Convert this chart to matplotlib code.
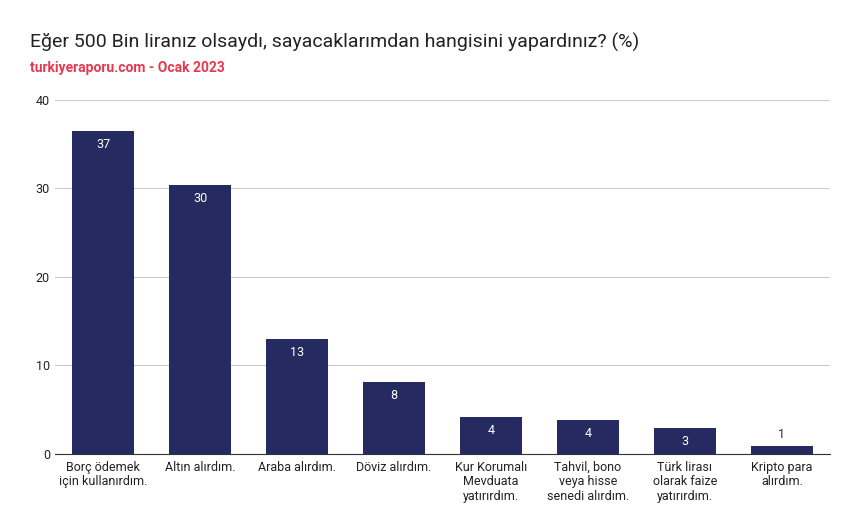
import matplotlib.pyplot as plt

categories = ["Borç ödemek\niçin kullanırdım.", "Altın alırdım.", "Araba alırdım.", "Döviz alırdım.",
              "Kur Korumalı\nMevduata\nyatırırdım.", "Tahvil, bono\nveya hisse\nsenedi alırdım.",
              "Türk lirası\nolarak faize\nyatırırdım.", "Kripto para\nalırdım."]
values = [36.5, 30.4, 13.0, 8.1, 4.2, 3.8, 2.9, 0.9]
labels = ["37", "30", "13", "8", "4", "4", "3", "1"]
yticks = [0, 10, 20, 30, 40]

plt.rcParams['font.family'] = ['Roboto', 'DejaVu Sans']
fig = plt.figure(figsize=(8.56, 5.32), dpi=100)
ax = fig.add_axes([0.064, 0.147, 0.906, 0.665])
color = '#252a61'
x = range(len(categories))
bars = ax.bar(x, values, width=0.64, color=color, zorder=3)
for i, (b, l) in enumerate(zip(bars, labels)):
    h = b.get_height()
    if h > 2:
        ax.text(b.get_x() + b.get_width()/2, h - 0.8, l, ha='center', va='top', color='white', fontsize=9)
    else:
        ax.text(b.get_x() + b.get_width()/2, h + 0.5, l, ha='center', va='bottom', color=color, fontsize=9)
ax.set_ylim(0, 40)
ax.set_xlim(-0.5, len(categories) - 0.5)
ax.set_yticks(yticks)
ax.set_xticks(list(x))
ax.set_xticklabels(categories, fontsize=9, color='#222222', linespacing=1.15)
ax.tick_params(axis='both', length=0, labelsize=9, colors='#222222')
ax.tick_params(axis='x', pad=5)
ax.grid(axis='y', color='#cccccc', linewidth=0.8, zorder=0)
for s in ['top', 'right', 'left']:
    ax.spines[s].set_visible(False)
ax.spines['bottom'].set_color('#333333')
fig.text(0.035, 0.91, "Eğer 500 Bin liranız olsaydı, sayacaklarımdan hangisini yapardınız? (%)", fontsize=14, color='#222222')
fig.text(0.035, 0.865, "turkiyeraporu.com - Ocak 2023", fontsize=10, color='#e8384f', fontweight='bold')
fig.savefig('out.png', dpi=100)
